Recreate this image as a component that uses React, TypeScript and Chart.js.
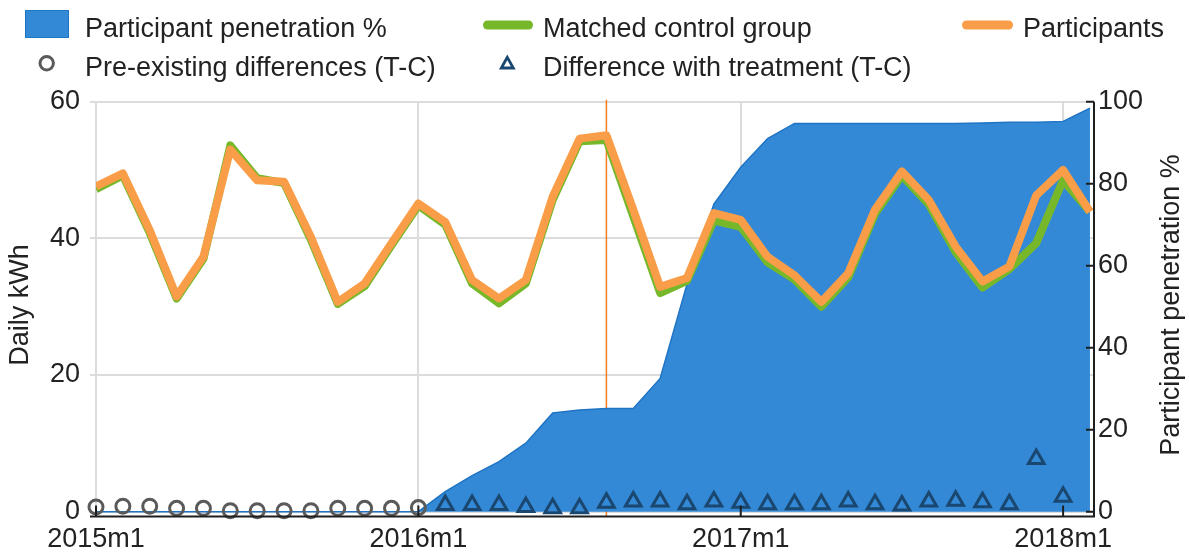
import React, { useEffect, useRef } from 'react';
import { Chart, registerables } from 'chart.js';

Chart.register(...registerables);

// ---------- data ----------
const months = [
  '2015m1', '2015m2', '2015m3', '2015m4', '2015m5', '2015m6', '2015m7', '2015m8', '2015m9', '2015m10', '2015m11', '2015m12',
  '2016m1', '2016m2', '2016m3', '2016m4', '2016m5', '2016m6', '2016m7', '2016m8', '2016m9', '2016m10', '2016m11', '2016m12',
  '2017m1', '2017m2', '2017m3', '2017m4', '2017m5', '2017m6', '2017m7', '2017m8', '2017m9', '2017m10', '2017m11', '2017m12',
  '2018m1', '2018m2',
];

const xTickMonths = ['2015m1', '2016m1', '2017m1', '2018m1'];
const leftTicks = [0, 20, 40, 60];
const rightTicks = [0, 20, 40, 60, 80, 100];
const treatmentStart = '2016m8';

const seriesNames = [
  'Participant penetration %',
  'Matched control group',
  'Participants',
  'Pre-existing differences (T-C)',
  'Difference with treatment (T-C)',
];
const leftTitle = 'Daily kWh';
const rightTitle = 'Participant penetration %';

// Daily kWh, participants
const participants = [
  47.6, 49.5, 41.2, 31.5, 37.3, 53.0, 48.5, 48.3, 40.2, 30.7, 33.4, 39.3,
  45.1, 42.4, 33.9, 31.2, 33.9, 46.1, 54.6, 55.1, 44.2, 32.9, 34.2, 43.7,
  42.7, 37.3, 34.6, 30.7, 34.9, 44.2, 49.8, 45.6, 38.8, 33.7, 35.9, 46.3,
  50.0, 43.9,
];

// Daily kWh, matched control group
const control = [
  47.2, 49.2, 40.8, 31.2, 37.0, 53.6, 48.8, 48.1, 39.8, 30.4, 33.0, 39.0,
  44.8, 42.0, 33.4, 30.5, 33.4, 45.6, 54.2, 54.4, 43.2, 32.0, 33.8, 42.6,
  41.7, 36.5, 34.0, 30.0, 34.3, 43.6, 49.2, 45.0, 38.0, 32.8, 35.5, 39.3,
  48.5, 43.9,
];

// Participant penetration % (right axis)
const penetration = [
  0, 0, 0, 0, 0, 0, 0, 0, 0, 0, 0, 0,
  0, 4.9, 8.8, 12.2, 16.7, 24.1, 24.8, 25.2, 25.2, 32.5, 55.5, 75.0,
  84.0, 91.0, 94.7, 94.7, 94.7, 94.7, 94.7, 94.7, 94.7, 94.8, 95.0, 95.0,
  95.2, 98.4,
];

// Pre-existing differences (T-C)
const preDiff = [
  0.7, 0.8, 0.8, 0.5, 0.5, 0.15, 0.15, 0.15, 0.15, 0.5, 0.5, 0.5,
  0.6, null, null, null, null, null, null, null, null, null, null, null,
  null, null, null, null, null, null, null, null, null, null, null, null,
  null, null,
];

// Difference with treatment (T-C)
const postDiff = [
  null, null, null, null, null, null, null, null, null, null, null, null,
  null, 1.0, 1.0, 1.0, 0.7, 0.5, 0.5, 1.3, 1.5, 1.5, 1.1, 1.5,
  1.3, 1.1, 1.1, 1.1, 1.5, 1.1, 0.9, 1.5, 1.6, 1.4, 1.1, 7.7,
  2.2, null,
];

// ---------- styles ----------
const FONT = '"Liberation Sans", Arial, Helvetica, sans-serif';
const FS = 27;
const TEXT = '#222222';
const AREA = '#3389d6';
const AREA_EDGE = '#1f74c4';
const GREEN = '#77b82a';
const ORANGE = '#fa9d48';
const VLINE = '#f47d20';
const GRAY = '#5a5a5a';
const NAVY = '#1a476f';
const GRID = '#dcdcdc';
const AXIS = '#1e1e1e';

const idx = (m: string) => months.indexOf(m);
const toPoints = (vals: (number | null)[]) => vals.map((v, i) => ({ x: i, y: v }));

const decor = {
  id: 'decor',
  beforeDatasetsDraw(chart: any) {
    const { ctx, chartArea } = chart;
    const xs = chart.scales.x;
    const px = xs.getPixelForValue(idx(treatmentStart));
    ctx.save();
    ctx.strokeStyle = VLINE;
    ctx.lineWidth = 1.5;
    ctx.beginPath();
    ctx.moveTo(px, chartArea.top - 2);
    ctx.lineTo(px, chartArea.bottom);
    ctx.stroke();
    ctx.restore();
  },
  afterDraw(chart: any) {
    const { ctx, chartArea } = chart;
    const { left, right, bottom } = chartArea;
    const xs = chart.scales.x;
    const yR = chart.scales.yR;
    ctx.save();
    // axes
    ctx.strokeStyle = AXIS;
    ctx.lineWidth = 2;
    ctx.beginPath();
    ctx.moveTo(left - 6, bottom);
    ctx.lineTo(right + 1, bottom);
    ctx.moveTo(right, yR.getPixelForValue(100));
    ctx.lineTo(right, bottom);
    rightTicks.forEach((v) => {
      const y = yR.getPixelForValue(v);
      ctx.moveTo(right - 8, y);
      ctx.lineTo(right, y);
    });
    xTickMonths.forEach((m) => {
      const x = xs.getPixelForValue(idx(m));
      ctx.moveTo(x, bottom - 11);
      ctx.lineTo(x, bottom);
    });
    ctx.stroke();

    // axis titles
    ctx.font = `${FS}px ${FONT}`;
    ctx.fillStyle = TEXT;
    ctx.textAlign = 'center';
    ctx.textBaseline = 'middle';
    ctx.save();
    ctx.translate(21, 305);
    ctx.rotate(-Math.PI / 2);
    ctx.fillText(leftTitle, 0, 0);
    ctx.restore();
    ctx.save();
    ctx.translate(1172, 305);
    ctx.rotate(-Math.PI / 2);
    ctx.fillText(rightTitle, 0, 0);
    ctx.restore();

    // legend
    ctx.textAlign = 'left';
    ctx.textBaseline = 'alphabetic';
    // area swatch
    ctx.fillStyle = AREA;
    ctx.fillRect(25, 10, 44, 28);
    ctx.strokeStyle = AREA_EDGE;
    ctx.lineWidth = 1;
    ctx.strokeRect(25.5, 10.5, 43, 27);
    ctx.fillStyle = TEXT;
    ctx.fillText(seriesNames[0], 85, 36.5);
    // green line
    ctx.lineCap = 'round';
    ctx.lineWidth = 9;
    ctx.strokeStyle = GREEN;
    ctx.beginPath();
    ctx.moveTo(487.5, 25);
    ctx.lineTo(528.5, 25);
    ctx.stroke();
    ctx.fillText(seriesNames[1], 543, 36.5);
    // orange line
    ctx.strokeStyle = ORANGE;
    ctx.beginPath();
    ctx.moveTo(966.5, 25);
    ctx.lineTo(1008.5, 25);
    ctx.stroke();
    ctx.fillText(seriesNames[2], 1023, 36.5);
    // circle
    ctx.lineCap = 'butt';
    ctx.lineWidth = 3;
    ctx.strokeStyle = GRAY;
    ctx.beginPath();
    ctx.arc(46.7, 63.3, 6.7, 0, Math.PI * 2);
    ctx.stroke();
    ctx.fillText(seriesNames[3], 85, 76);
    // triangle
    ctx.strokeStyle = NAVY;
    ctx.lineWidth = 2.8;
    ctx.lineJoin = 'miter';
    ctx.beginPath();
    ctx.moveTo(507.3, 57.3);
    ctx.lineTo(501.3, 68);
    ctx.lineTo(513.3, 68);
    ctx.closePath();
    ctx.stroke();
    ctx.fillText(seriesNames[4], 543, 76);
    ctx.restore();
  },
};

export default function App() {
  const ref = useRef<HTMLCanvasElement | null>(null);

  useEffect(() => {
    document.body.style.margin = '0';
    const canvas = ref.current;
    if (!canvas) return;
    Chart.defaults.font.family = FONT;

    const chart = new Chart(canvas, {
      type: 'line',
      data: {
        datasets: [
          {
            label: seriesNames[0],
            data: toPoints(penetration),
            yAxisID: 'yR',
            fill: 'origin',
            backgroundColor: AREA,
            borderColor: AREA_EDGE,
            borderWidth: 1.5,
            pointRadius: 0,
            order: 10,
          },
          {
            label: seriesNames[1],
            data: toPoints(control),
            yAxisID: 'yL',
            borderColor: GREEN,
            borderWidth: 8,
            borderJoinStyle: 'round',
            pointRadius: 0,
            fill: false,
            order: 6,
          },
          {
            label: seriesNames[2],
            data: toPoints(participants),
            yAxisID: 'yL',
            borderColor: ORANGE,
            borderWidth: 8,
            borderJoinStyle: 'round',
            pointRadius: 0,
            fill: false,
            order: 5,
          },
          {
            label: seriesNames[3],
            data: toPoints(preDiff),
            yAxisID: 'yL',
            showLine: false,
            pointStyle: 'circle',
            pointRadius: 7,
            pointBorderWidth: 3,
            pointBorderColor: GRAY,
            pointBackgroundColor: 'rgba(0,0,0,0)',
            order: 2,
            clip: false,
          },
          {
            label: seriesNames[4],
            data: toPoints(postDiff),
            yAxisID: 'yL',
            showLine: false,
            pointStyle: 'triangle',
            pointRadius: 9,
            pointBorderWidth: 3,
            pointBorderColor: NAVY,
            pointBackgroundColor: 'rgba(0,0,0,0)',
            order: 1,
            clip: false,
          },
        ] as any,
      },
      options: {
        responsive: false,
        maintainAspectRatio: false,
        animation: false,
        layout: { padding: { top: 101.7, left: 0, right: 0, bottom: 0 } },
        plugins: { legend: { display: false }, tooltip: { enabled: false } },
        scales: {
          x: {
            type: 'linear',
            position: 'bottom',
            min: 0,
            max: 37.15,
            afterBuildTicks: (s: any) => {
              s.ticks = xTickMonths.map((m) => ({ value: idx(m) }));
            },
            afterFit: (s: any) => {
              s.height = 36.5;
            },
            grid: { color: GRID, lineWidth: 2, drawTicks: false },
            border: { display: false },
            ticks: {
              autoSkip: false,
              maxRotation: 0,
              padding: 7,
              color: TEXT,
              font: { size: FS, family: FONT },
              callback: (v: any) => months[Number(v)] ?? '',
            },
          },
          yL: {
            type: 'linear',
            position: 'left',
            min: -0.7,
            max: 60,
            afterBuildTicks: (s: any) => {
              s.ticks = leftTicks.map((v) => ({ value: v }));
            },
            afterFit: (s: any) => {
              s.width = 96;
            },
            grid: { color: GRID, lineWidth: 2, drawTicks: true, tickLength: 6 },
            border: { display: false },
            ticks: { padding: 10, color: TEXT, font: { size: FS, family: FONT } },
          },
          yR: {
            type: 'linear',
            position: 'right',
            min: -1.17,
            max: 100,
            afterBuildTicks: (s: any) => {
              s.ticks = rightTicks.map((v) => ({ value: v }));
            },
            afterFit: (s: any) => {
              s.width = 95;
            },
            grid: { display: false, drawTicks: false },
            border: { display: false },
            ticks: { padding: 4, color: TEXT, font: { size: FS, family: FONT } },
          },
        },
      } as any,
      plugins: [decor],
    });

    return () => chart.destroy();
  }, []);

  return (
    <div style={{ width: 1189, height: 553, background: '#ffffff' }}>
      <canvas ref={ref} width={1189} height={553} style={{ display: 'block' }} />
    </div>
  );
}
